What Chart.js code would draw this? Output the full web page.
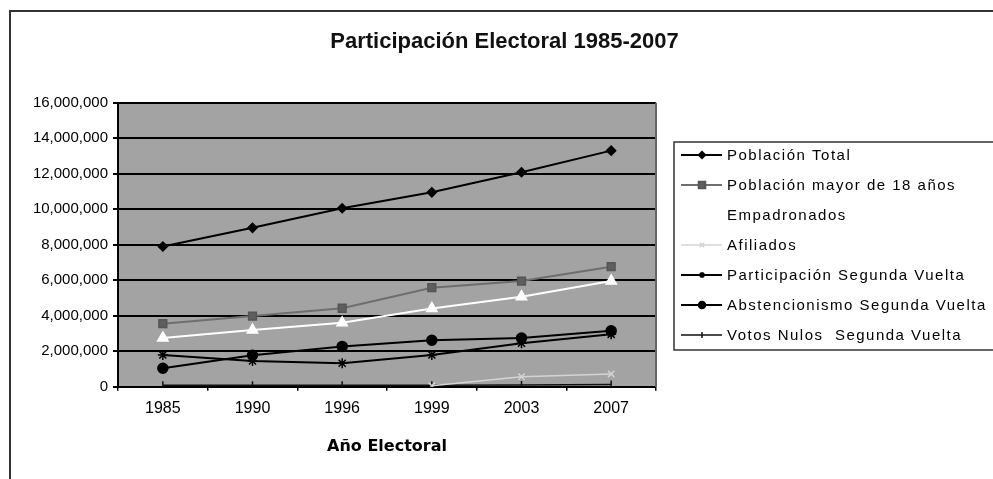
<!DOCTYPE html>
<html>
<head>
<meta charset="utf-8">
<script src="https://cdn.jsdelivr.net/npm/chart.js"></script>
<style>
  html, body { margin: 0; padding: 0; background: #fff; overflow: hidden; }
  canvas { display: block; }
</style>
</head>
<body>
<canvas id="c" width="993" height="479"></canvas>
<script>
// ---- Data ----
const categories = ['1985', '1990', '1996', '1999', '2003', '2007'];
const poblacionTotal   = [7900000, 8950000, 10050000, 10950000, 12080000, 13300000];
const poblacionMayor18 = [3550000, 3980000, 4420000, 5580000, 5950000, 6760000];
const empadronados     = [2750000, 3190000, 3600000, 4410000, 5070000, 5960000];
const afiliados        = [null, null, null, 50000, 560000, 720000];
const participacion2V  = [1790000, 1450000, 1320000, 1790000, 2450000, 2950000];
const abstencion2V     = [1040000, 1770000, 2270000, 2620000, 2740000, 3150000];
const votosNulos2V     = [80000, 80000, 80000, 80000, 100000, 120000];
const yTickStep = 2000000;
const yMax = 16000000;

const seriesNames = [
  'Población Total',
  'Población mayor de 18 años',
  'Empadronados',
  'Afiliados',
  'Participación Segunda Vuelta',
  'Abstencionismo Segunda Vuelta',
  'Votos Nulos  Segunda Vuelta'
];

Chart.defaults.font.family = '"Liberation Sans", Arial, sans-serif';
Chart.defaults.color = '#000';

const datasets = [
  { label: seriesNames[0], data: poblacionTotal, borderColor: '#000', backgroundColor: '#000',
    borderWidth: 2, pointStyle: 'rectRot', pointRadius: 4.5, legendRadius: 3.5 },
  { label: seriesNames[1], data: poblacionMayor18, borderColor: '#6e6e6e', backgroundColor: '#5e5e5e',
    borderWidth: 2, pointStyle: 'rect', pointRadius: 5.5, pointBorderColor: '#555', legendRadius: 5 },
  { label: seriesNames[2], data: empadronados, borderColor: '#fff', backgroundColor: '#fff',
    borderWidth: 2, pointStyle: 'triangle', pointRadius: 6, legendRadius: 4 },
  { label: seriesNames[3], data: afiliados, borderColor: '#d4d4d4', backgroundColor: '#d4d4d4',
    borderWidth: 1.5, pointStyle: 'crossRot', pointRadius: 4.5, legendRadius: 3 },
  { label: seriesNames[4], data: participacion2V, borderColor: '#000', backgroundColor: '#000',
    borderWidth: 2, pointStyle: 'star', pointRadius: 5, legendRadius: 3 },
  { label: seriesNames[5], data: abstencion2V, borderColor: '#000', backgroundColor: '#000',
    borderWidth: 2, pointStyle: 'circle', pointRadius: 5, legendRadius: 3.5 },
  { label: seriesNames[6], data: votosNulos2V, borderColor: '#111', backgroundColor: '#111',
    borderWidth: 1.5, pointStyle: 'line', pointRotation: 90, pointRadius: 4, legendRadius: 3 }
].map(d => Object.assign({ tension: 0, spanGaps: false, pointBorderWidth: 1.5,
  pointBorderColor: d.pointBorderColor || d.borderColor, pointBackgroundColor: d.backgroundColor }, d));

const framePlugin = {
  id: 'frame',
  beforeDraw(chart) {
    const { ctx, chartArea: a } = chart;
    ctx.save();
    // outer chart frame (top & left edges visible)
    ctx.strokeStyle = '#333';
    ctx.lineWidth = 2;
    ctx.beginPath();
    ctx.moveTo(10, 500);
    ctx.lineTo(10, 11);
    ctx.lineTo(1000, 11);
    ctx.stroke();
    // plot area background
    ctx.fillStyle = '#a3a3a3';
    ctx.fillRect(a.left, a.top, a.right - a.left, a.bottom - a.top);
    ctx.restore();
  },
  afterDraw(chart) {
    const { ctx, chartArea: a } = chart;
    ctx.save();
    // plot area right edge
    ctx.strokeStyle = '#666';
    ctx.lineWidth = 2;
    ctx.beginPath();
    ctx.moveTo(a.right, a.top);
    ctx.lineTo(a.right, a.bottom);
    ctx.stroke();

    // legend box
    const L = a.right + 18, T = 142, B = 350;
    ctx.strokeStyle = '#333';
    ctx.lineWidth = 1.5;
    ctx.strokeRect(L, T, 1100 - L, B - T);
    chart.data.datasets.forEach((ds, i) => {
      const y = T + 13 + i * 30;
      ctx.strokeStyle = ds.borderColor;
      ctx.lineWidth = ds.borderWidth;
      ctx.beginPath();
      ctx.moveTo(L + 7, y);
      ctx.lineTo(L + 48, y);
      ctx.stroke();
      ctx.fillStyle = ds.pointBackgroundColor;
      ctx.strokeStyle = ds.pointBorderColor;
      ctx.lineWidth = 1.5;
      Chart.helpers.drawPoint(ctx, {
        pointStyle: ds.pointStyle, radius: ds.legendRadius,
        rotation: ds.pointRotation || 0, borderWidth: 1.5
      }, L + 28, y);
      ctx.fillStyle = '#000';
      ctx.font = '15px "Liberation Sans", Arial, sans-serif';
      ctx.textBaseline = 'middle';
      ctx.textAlign = 'left';
      try { ctx.letterSpacing = '1.5px'; } catch (e) {}
      ctx.fillText(ds.label, L + 53, y + 1);
    });
    ctx.restore();
  }
};

new Chart(document.getElementById('c'), {
  type: 'line',
  data: { labels: categories, datasets },
  options: {
    responsive: false,
    animation: false,
    devicePixelRatio: 1,
    layout: { padding: { left: 16, right: 0, top: 0, bottom: 0 } },
    plugins: {
      legend: { display: false },
      tooltip: { enabled: false },
      title: {
        display: true,
        text: 'Participación Electoral 1985-2007',
        font: { size: 22, weight: 'bold' },
        color: '#111',
        padding: { top: 28.5, bottom: 47.8 }
      }
    },
    scales: {
      x: {
        type: 'category',
        offset: true,
        grid: { display: true, drawOnChartArea: false, drawTicks: true, tickLength: 4, color: '#000', lineWidth: 1.5, offset: true },
        border: { display: true, color: '#000', width: 2 },
        ticks: { font: { size: 16 }, color: '#000', padding: 8, maxRotation: 0 },
        title: { display: true, text: 'Año Electoral',
          font: { size: 16, weight: 'bold', family: '"DejaVu Sans", "Liberation Sans", sans-serif' },
          color: '#000', padding: { top: 0, bottom: 23 } },
        afterFit(s) { s.height = 92.3; }
      },
      y: {
        min: 0,
        max: yMax,
        ticks: { stepSize: yTickStep, font: { size: 15 }, color: '#000', padding: 5,
          callback: v => Number(v).toLocaleString('en-US') },
        grid: { color: '#000', lineWidth: 2, tickLength: 5, drawTicks: true },
        border: { display: true, color: '#000', width: 2 },
        afterFit(s) { s.width = 102; }
      },
      legendSpace: {
        type: 'linear',
        position: 'right',
        display: true,
        grid: { display: false },
        ticks: { display: false },
        border: { display: false },
        afterFit(s) { s.width = 337; }
      }
    }
  },
  plugins: [framePlugin]
});
</script>
</body>
</html>
